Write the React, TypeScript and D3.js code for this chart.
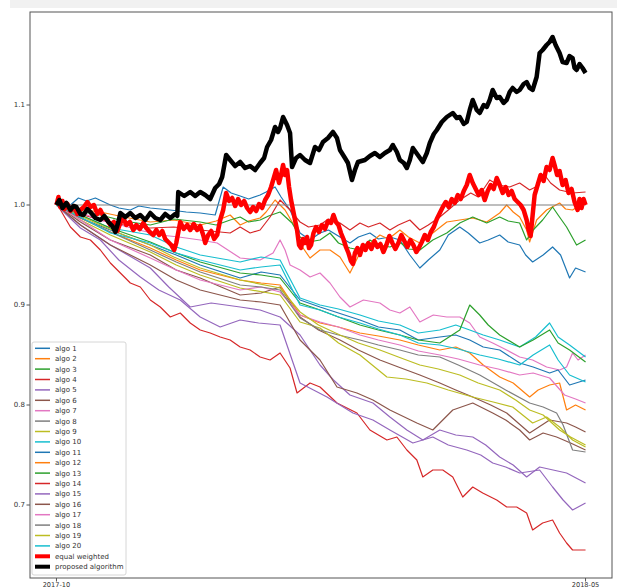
import React from "react";
import * as d3 from "d3";

// series are [day since 2017-10-01, value]
const proposed = [[0,1.000],[1.2,1.005],[2.4,0.997],[4,1.002],[5.6,0.995],[6.8,0.999],[8,0.998],[9.6,0.991],[10.8,0.990],[12.4,0.996],[13.6,0.993],[15.6,0.987],[17.6,0.985],[19.2,0.989],[20.8,0.983],[22.4,0.979],[23.6,0.973],[24.8,0.983],[25.6,0.992],[27.6,0.988],[29.6,0.992],[31.6,0.987],[33.6,0.990],[35.6,0.985],[37.6,0.992],[39.6,0.987],[41.6,0.985],[43.6,0.991],[45.6,0.987],[47.6,0.991],[48.4,0.989],[48.8,1.013],[51.2,1.009],[53.6,1.013],[55.6,1.009],[57.6,1.013],[59.6,1.010],[61.6,1.006],[63.6,1.017],[65.2,1.021],[66.4,1.028],[68,1.050],[69.6,1.045],[71.6,1.039],[73.6,1.043],[75.6,1.037],[77.6,1.039],[79.6,1.035],[81.6,1.042],[83.2,1.047],[84.4,1.058],[86,1.065],[87.6,1.078],[88.8,1.073],[89.6,1.077],[90.8,1.088],[92.4,1.080],[93.6,1.072],[94.4,1.038],[96,1.047],[97.6,1.050],[99.6,1.045],[101.6,1.042],[103.6,1.058],[105.2,1.055],[106.8,1.063],[108.8,1.067],[110.8,1.073],[112.4,1.067],[113.6,1.055],[115.6,1.047],[116.8,1.042],[118.4,1.025],[119.6,1.035],[120.8,1.043],[123.6,1.045],[125.6,1.049],[127.6,1.052],[129.6,1.048],[131.6,1.052],[133.6,1.055],[134.8,1.060],[136.4,1.053],[137.6,1.045],[139.2,1.042],[140.4,1.037],[141.6,1.045],[142.8,1.057],[144.8,1.050],[146.8,1.043],[148.4,1.052],[149.6,1.062],[151.2,1.071],[152.4,1.075],[154.4,1.083],[156.4,1.088],[158.8,1.092],[160.4,1.087],[161.6,1.088],[163.2,1.081],[164.4,1.083],[165.6,1.095],[166.8,1.105],[168.4,1.095],[169.6,1.092],[171.2,1.100],[172.4,1.098],[173.6,1.105],[174.8,1.115],[176.4,1.107],[177.6,1.108],[179.2,1.102],[180.4,1.105],[181.6,1.113],[182.8,1.117],[184.4,1.113],[185.6,1.115],[187.2,1.121],[188.4,1.123],[189.6,1.117],[190.8,1.115],[192.4,1.128],[193.6,1.152],[194.8,1.155],[196.4,1.160],[197.6,1.163],[198.8,1.168],[200,1.160],[201.6,1.152],[202.8,1.143],[204.4,1.142],[205.6,1.149],[206.8,1.147],[207.6,1.137],[208.4,1.135],[209.6,1.141],[210.8,1.137],[212,1.132]];

const equalWeighted = [[0,1.000],[0.8,1.008],[1.6,0.998],[2.4,1.004],[3.2,0.996],[4.4,1.001],[5.6,0.994],[7,0.999],[8.4,0.991],[9.6,0.995],[11,0.998],[12.4,1.003],[13.6,0.998],[15,1.000],[16.4,0.991],[17.6,0.995],[19,0.988],[20.4,0.985],[21.6,0.980],[23,0.983],[24.4,0.974],[25.6,0.982],[26.8,0.987],[28,0.980],[29.4,0.983],[30.8,0.975],[32,0.980],[33.4,0.976],[34.8,0.982],[36,0.977],[37.4,0.973],[38.8,0.970],[40,0.975],[41.2,0.970],[42.4,0.974],[43.6,0.966],[44.8,0.963],[46,0.960],[47.2,0.955],[48,0.962],[49.6,0.983],[51,0.976],[52.4,0.980],[53.6,0.975],[55,0.981],[56.4,0.975],[57.6,0.979],[58.8,0.970],[59.6,0.962],[60.8,0.970],[62,0.974],[63.2,0.966],[64.4,0.970],[65.6,0.985],[66.8,0.995],[68,1.012],[69.2,1.004],[70.4,1.007],[71.6,0.999],[72.8,1.006],[74,1.000],[75.2,1.004],[76.4,0.997],[77.6,0.993],[78.8,0.998],[80,0.994],[81.2,1.001],[82.4,0.997],[83.6,1.005],[84.8,1.010],[86,1.018],[87.2,1.028],[88,1.035],[89.2,1.022],[90,1.030],[90.8,1.040],[91.6,1.030],[92.4,1.035],[93.2,1.018],[94,1.005],[94.8,0.995],[95.6,0.985],[96.4,0.975],[97.2,0.960],[98,0.957],[98.8,0.966],[99.6,0.962],[100.4,0.968],[101.2,0.957],[102,0.960],[103,0.972],[104,0.978],[105.2,0.973],[106.4,0.980],[107.6,0.976],[108.8,0.984],[110,0.982],[111,0.990],[112,0.983],[113,0.980],[114,0.972],[115,0.966],[116,0.958],[117,0.952],[118,0.944],[118.8,0.941],[119.6,0.952],[120.6,0.957],[121.6,0.950],[122.8,0.960],[123.8,0.955],[125,0.962],[126.2,0.956],[127.4,0.964],[128.6,0.958],[129.8,0.961],[131,0.953],[132.2,0.960],[133.4,0.969],[134.6,0.962],[135.8,0.956],[137,0.962],[138.2,0.970],[139.4,0.964],[140.6,0.958],[141.8,0.965],[143,0.960],[144.2,0.953],[145.2,0.957],[146.4,0.963],[147.6,0.970],[148.8,0.965],[150,0.973],[151.2,0.978],[152.4,0.986],[153.6,0.992],[154.8,0.998],[156,1.003],[157.2,0.998],[158.4,1.006],[159.6,1.002],[160.8,1.010],[162,1.006],[163.2,1.014],[164.4,1.020],[165.6,1.030],[166.8,1.022],[168,1.016],[169.2,1.010],[170.4,1.015],[171.6,1.005],[172.8,1.014],[174,1.020],[175.2,1.016],[176.4,1.027],[177.6,1.020],[178.8,1.012],[180,1.018],[181.2,1.010],[182.4,1.014],[183.6,1.006],[184.8,1.003],[186,1.000],[187.2,0.995],[188.4,0.985],[189.2,0.975],[190,0.969],[190.8,0.990],[191.6,1.010],[192.8,1.020],[194,1.030],[195.2,1.024],[196.4,1.038],[197.6,1.035],[198.8,1.047],[199.6,1.040],[200.6,1.030],[201.6,1.034],[202.8,1.020],[204,1.025],[205.2,1.012],[206.4,1.016],[207.6,1.003],[208.8,0.995],[209.6,1.006],[210.4,0.997],[211.2,1.006],[212,1.000]];

const algo1 = [[0,1.000],[5.6,1.000],[8.8,1.007],[12,1.004],[15.6,1.007],[21.6,1.000],[25,0.997],[29.6,0.995],[33,0.999],[37.6,0.997],[45.6,0.995],[52,0.993],[57.6,0.992],[63.6,0.990],[66.8,1.018],[70,1.012],[73.6,1.009],[77,1.006],[81.6,1.010],[84,1.013],[87.6,1.018],[90,1.008],[93.6,0.995],[97.6,0.972],[101.6,0.965],[105.6,0.972],[109,0.975],[113.6,0.968],[117.6,0.962],[121,0.968],[125.6,0.972],[129,0.966],[133.6,0.968],[137.6,0.965],[141.6,0.950],[145.6,0.937],[149,0.945],[153.6,0.955],[157,0.970],[161.6,0.978],[165,0.972],[169.6,0.962],[173,0.965],[177.6,0.970],[181,0.963],[185.6,0.960],[188,0.950],[190.8,0.943],[195,0.950],[198.8,0.958],[202,0.950],[205.6,0.927],[208,0.937],[212,0.933]];
const algo2 = [[0,1.000],[8,0.996],[17.6,0.993],[27,0.988],[37.6,0.983],[47,0.985],[57.6,0.980],[64,0.984],[69.6,0.990],[73.6,0.980],[77,0.984],[81.6,0.987],[84,0.993],[87.6,1.005],[91.6,0.995],[95.6,0.978],[98,0.960],[101.6,0.947],[105.6,0.955],[109.6,0.955],[113.6,0.948],[117.6,0.932],[121.6,0.952],[125,0.960],[129.6,0.970],[133,0.966],[137.6,0.975],[141,0.968],[145.6,0.962],[150.8,0.972],[156.4,0.983],[161.6,0.985],[166.8,0.987],[172.4,0.983],[177.6,0.992],[180.4,1.000],[183,0.993],[185.6,0.988],[188.4,0.975],[189.6,0.963],[192.4,0.985],[196.4,0.995],[201.6,1.002],[204,0.996],[206.8,0.995],[212,1.003]];
const algo3 = [[0,1.000],[8,0.994],[17.6,0.990],[27,0.984],[37.6,0.980],[47,0.986],[57.6,0.983],[64,0.980],[69.6,0.985],[73.6,0.988],[77,0.983],[81.6,0.985],[85,0.989],[89.6,0.993],[94.4,0.982],[97.6,0.968],[101,0.963],[105.6,0.965],[109.6,0.972],[113,0.962],[117.6,0.957],[121.6,0.955],[125.6,0.965],[129,0.960],[133.6,0.958],[138,0.962],[141,0.956],[145.6,0.955],[150.8,0.965],[156.4,0.972],[161.6,0.982],[166.8,0.988],[172.4,0.982],[177.6,0.988],[181,0.984],[185.6,0.982],[188.4,0.965],[191,0.975],[194.8,0.985],[198.8,0.998],[201,0.990],[204.4,0.978],[208.4,0.960],[212,0.965]];
const algo4 = [[0,1.000],[8,0.992],[17.6,0.985],[27,0.980],[37.6,0.977],[47,0.978],[57.6,0.975],[69.6,0.972],[73.6,0.978],[77.6,0.972],[81.6,0.975],[85.6,0.988],[89.6,1.005],[93.6,0.995],[97.6,0.983],[101,0.978],[105.6,0.980],[109,0.986],[113.6,0.982],[117.6,0.975],[121.6,0.982],[125,0.978],[129.6,0.982],[133.6,0.975],[137,0.980],[141.6,0.985],[145.6,0.975],[149,0.980],[153.6,0.988],[157,0.995],[161.6,1.005],[166,1.012],[169,1.008],[173.6,1.025],[177,1.020],[181.6,1.018],[185.6,1.022],[189.6,1.015],[192,1.018],[195.6,1.030],[198,1.022],[201.6,1.015],[206.8,1.012],[212,1.013]];
const algo5 = [[0,1.000],[9.6,0.980],[21.6,0.960],[30,0.948],[37.6,0.937],[45,0.918],[53.6,0.898],[62,0.902],[73.6,0.898],[81.6,0.895],[89.6,0.888],[97.6,0.870],[105.6,0.840],[111,0.825],[117.6,0.810],[126.8,0.802],[133.6,0.788],[140.4,0.775],[146.8,0.765],[153.6,0.775],[160,0.770],[166.8,0.768],[172,0.760],[177.6,0.748],[183,0.740],[188.4,0.728],[193.6,0.738],[199,0.735],[204.4,0.732],[212,0.722]];
const algo6 = [[0,1.000],[9.6,0.983],[21.6,0.965],[37.6,0.950],[48,0.935],[57.6,0.927],[66,0.918],[73.6,0.910],[82,0.912],[89.6,0.918],[97.6,0.888],[105,0.875],[113.6,0.865],[121,0.855],[129.6,0.845],[137,0.838],[145.6,0.830],[153.6,0.822],[160,0.815],[166.8,0.808],[174,0.800],[180.4,0.792],[185,0.782],[189.6,0.772],[197.6,0.785],[204.4,0.782],[208,0.778],[212,0.773]];
const algo7 = [[0,1.000],[9.6,0.993],[17,0.985],[25.6,0.980],[33,0.975],[41.6,0.970],[49,0.968],[57.6,0.965],[64.4,0.962],[73.6,0.947],[81.6,0.945],[86.8,0.952],[89.6,0.965],[91.6,0.955],[93.6,0.940],[97.6,0.935],[101.6,0.928],[105.6,0.932],[109.6,0.922],[113.6,0.908],[117.6,0.898],[123,0.905],[129.6,0.902],[133.6,0.895],[137.6,0.892],[141.6,0.898],[145.6,0.883],[151,0.890],[156.4,0.888],[161.6,0.888],[165.6,0.882],[169.6,0.868],[174.8,0.862],[180.4,0.855],[185.6,0.848],[190.8,0.845],[196.4,0.838],[201.6,0.835],[204.4,0.838],[206.8,0.852],[209,0.845],[212,0.850]];
const algo8 = [[0,1.000],[212,1.000]];
const algo9 = [[0,1.000],[9.6,0.985],[21.6,0.970],[37.6,0.953],[48,0.940],[57.6,0.930],[73.6,0.917],[89.6,0.910],[97.6,0.883],[105.6,0.877],[113,0.862],[121.6,0.850],[132.4,0.828],[140,0.826],[148.4,0.822],[157,0.815],[166.8,0.808],[175,0.803],[182.8,0.798],[190.8,0.782],[196.4,0.788],[201.6,0.778],[206.8,0.765],[212,0.758]];
const algo10 = [[0,1.000],[9.6,0.990],[21.6,0.977],[37.6,0.970],[48,0.958],[57.6,0.950],[73.6,0.943],[82,0.948],[89.6,0.945],[97.6,0.907],[105.6,0.900],[113,0.896],[121.6,0.890],[129,0.884],[137.6,0.880],[145,0.872],[153.6,0.875],[160,0.880],[165.6,0.875],[171,0.870],[177.6,0.865],[185.6,0.858],[192,0.868],[197.6,0.882],[201,0.868],[205.6,0.860],[212,0.848]];
const algo11 = [[0,1.000],[9.6,0.987],[21.6,0.975],[37.6,0.960],[48,0.950],[57.6,0.940],[73.6,0.927],[82,0.933],[89.6,0.930],[97.6,0.905],[105.6,0.898],[113,0.892],[121.6,0.885],[129,0.878],[137.6,0.875],[145,0.865],[153.6,0.868],[160,0.870],[165.6,0.865],[171,0.858],[177.6,0.855],[185.6,0.842],[191,0.838],[197.6,0.832],[201,0.835],[205.6,0.820],[212,0.825]];
const algo12 = [[0,1.000],[9.6,0.987],[21.6,0.973],[37.6,0.957],[48,0.945],[57.6,0.935],[73.6,0.925],[82,0.922],[89.6,0.920],[97.6,0.890],[105.6,0.882],[113,0.878],[121.6,0.872],[129,0.869],[137.6,0.865],[145,0.860],[153.6,0.855],[160,0.858],[165.6,0.852],[171,0.840],[177.6,0.828],[183,0.822],[189.6,0.808],[193,0.815],[197.6,0.820],[201.6,0.822],[204.4,0.795],[208,0.800],[212,0.795]];
const algo13 = [[0,1.000],[9.6,0.990],[21.6,0.977],[37.6,0.963],[48,0.952],[57.6,0.943],[73.6,0.932],[82,0.930],[89.6,0.927],[97.6,0.902],[105.6,0.895],[113,0.888],[121.6,0.880],[129,0.875],[137.6,0.870],[145,0.865],[153.6,0.862],[161.6,0.875],[165.6,0.900],[169.6,0.890],[173,0.880],[177.6,0.870],[185.6,0.858],[191,0.865],[197.6,0.875],[201,0.862],[205.6,0.855],[212,0.843]];
const algo14 = [[0,1.002],[5.6,0.978],[9.6,0.968],[13.6,0.965],[17.6,0.955],[21.6,0.942],[25.6,0.932],[29.6,0.922],[33.6,0.918],[37.6,0.905],[41.6,0.898],[45.6,0.888],[49.6,0.892],[53.6,0.882],[57.6,0.875],[61.6,0.872],[65.6,0.868],[69.6,0.865],[73.6,0.858],[77.6,0.855],[81.6,0.848],[85.6,0.845],[89.6,0.852],[93.6,0.837],[96.4,0.812],[101.6,0.822],[105.6,0.818],[112.4,0.802],[120.4,0.792],[125.6,0.775],[132.4,0.765],[136.4,0.768],[140.4,0.755],[144.4,0.745],[146.8,0.728],[150.8,0.735],[154.8,0.735],[158.8,0.728],[162.8,0.708],[166.8,0.718],[170.8,0.712],[176.4,0.705],[180.4,0.698],[184.4,0.698],[188.4,0.692],[190.8,0.675],[194.8,0.682],[198.8,0.685],[201.6,0.672],[204.4,0.662],[206.8,0.655],[212,0.655]];
const algo15 = [[0,1.000],[9.6,0.977],[17.6,0.965],[25,0.945],[33.6,0.928],[41,0.915],[49.6,0.905],[57.6,0.888],[65.6,0.878],[73.6,0.885],[81,0.882],[89.6,0.880],[97.6,0.822],[103,0.815],[108.4,0.808],[118.8,0.792],[126.8,0.785],[133.6,0.775],[142.8,0.762],[150.8,0.768],[157,0.760],[164.4,0.755],[170,0.750],[174.8,0.742],[180,0.738],[185.6,0.732],[193.6,0.735],[198.8,0.718],[203,0.705],[206.8,0.695],[212,0.702]];
const algo16 = [[0,1.000],[9.6,0.980],[21.6,0.960],[37.6,0.940],[48,0.925],[57.6,0.915],[73.6,0.905],[82,0.903],[89.6,0.900],[97.6,0.865],[105.6,0.845],[112.4,0.818],[120.4,0.812],[126.8,0.805],[133.6,0.795],[144.4,0.782],[150.8,0.775],[158.8,0.795],[166.8,0.802],[174.8,0.792],[180,0.785],[185.6,0.775],[189.6,0.765],[195,0.772],[200.4,0.768],[206,0.762],[212,0.755]];
const algo17 = [[0,1.000],[9.6,0.985],[21.6,0.965],[37.6,0.947],[48,0.935],[57.6,0.925],[73.6,0.915],[82,0.918],[89.6,0.913],[97.6,0.890],[105.6,0.883],[113,0.878],[121.6,0.870],[129,0.865],[137.6,0.860],[145,0.854],[153.6,0.850],[161,0.846],[169.6,0.840],[177,0.836],[185.6,0.830],[191,0.832],[197.6,0.827],[203.6,0.810],[208,0.806],[212,0.802]];
const algo18 = [[0,1.000],[9.6,0.987],[21.6,0.973],[37.6,0.955],[48,0.943],[57.6,0.933],[73.6,0.920],[82,0.918],[89.6,0.915],[97.6,0.887],[105.6,0.875],[113,0.870],[121.6,0.865],[129,0.860],[137.6,0.855],[145,0.850],[153.6,0.848],[161,0.840],[169.6,0.830],[180,0.815],[189.6,0.802],[195,0.798],[200.4,0.792],[203,0.780],[206.8,0.755],[212,0.753]];
const algo19 = [[0,1.000],[17.6,0.980],[27,0.970],[37.6,0.960],[47,0.948],[57.6,0.937],[73.6,0.925],[89.6,0.917],[97.6,0.893],[105,0.880],[113.6,0.870],[121,0.862],[129.6,0.855],[137,0.848],[145.6,0.840],[153,0.836],[161.6,0.830],[169,0.822],[177.6,0.815],[184,0.805],[189.6,0.795],[195,0.790],[201.6,0.775],[206,0.768],[212,0.760]];
const algo20 = [[0,1.000],[9.6,0.988],[21.6,0.972],[37.6,0.962],[48,0.952],[57.6,0.945],[73.6,0.935],[82,0.938],[89.6,0.940],[97.6,0.900],[105.6,0.895],[113,0.888],[121.6,0.882],[129,0.876],[137.6,0.870],[145,0.862],[153.6,0.860],[161,0.856],[169.6,0.850],[177,0.846],[185.6,0.840],[191,0.850],[197.6,0.860],[201,0.845],[205.6,0.830],[212,0.823]];

const algos = [algo1, algo2, algo3, algo4, algo5, algo6, algo7, algo8, algo9, algo10,
  algo11, algo12, algo13, algo14, algo15, algo16, algo17, algo18, algo19, algo20];
const algoNames = algos.map((_, i) => "algo " + (i + 1));
const yTicks = [0.7, 0.8, 0.9, 1.0, 1.1];
const xTickLabels = ["2017-10", "2018-05"];
const xTickDays = [0, 212];

const START = Date.UTC(2017, 9, 1);
const DAY = 86400000;
const toDate = (d: number) => new Date(START + d * DAY);

export default function App() {
  const W = 617, H = 588;
  const left = 30, right = 612, top = 12, bottom = 578;

  const x0 = toDate(0), x1 = toDate(212);
  const pad = (x1.getTime() - x0.getTime()) * 0.05;
  const x = d3.scaleTime()
    .domain([new Date(x0.getTime() - pad), new Date(x1.getTime() + pad)])
    .range([left, right]);
  const y = d3.scaleLinear().domain([0.627, 1.193]).range([bottom, top]);

  const line = d3.line<number[]>()
    .x((d) => x(toDate(d[0])))
    .y((d) => y(d[1]));

  const colors = d3.schemeCategory10;
  const font = "DejaVu Sans, sans-serif";
  const legX = 32, legY = 342, rowH = 10.4;
  const legendItems = [
    ...algoNames.map((n, i) => ({ name: n, color: colors[i % 10], w: 1.5 })),
    { name: "equal weighted", color: "red", w: 4 },
    { name: "proposed algorithm", color: "black", w: 4 },
  ];

  return (
    <div style={{ position: "absolute", left: 0, top: 0 }}>
      <svg width={W} height={H} style={{ display: "block", background: "#fff" }}>
        <rect x={10} y={0} width={W - 10} height={8} fill="#f1f1f1" />
        <g fill="none" strokeLinejoin="round">
          {algos.map((s, i) => (
            <path key={i} d={line(s) || ""} stroke={colors[i % 10]} strokeWidth={1.2} />
          ))}
          <path d={line(equalWeighted) || ""} stroke="red" strokeWidth={4.5} />
          <path d={line(proposed) || ""} stroke="black" strokeWidth={4.5} />
        </g>
        <rect x={left} y={top} width={right - left} height={bottom - top}
          fill="none" stroke="#555" strokeWidth={1} />
        {yTicks.map((t) => (
          <g key={t} transform={`translate(0,${y(t)})`}>
            <line x1={left - 3.5} x2={left} stroke="#555" />
            <text x={left - 5} dy="0.35em" textAnchor="end" fontSize={7}
              fontFamily={font} fill="#333">{t.toFixed(1)}</text>
          </g>
        ))}
        {xTickDays.map((d, i) => (
          <g key={d} transform={`translate(${x(toDate(d))},${bottom})`}>
            <line y2={3.5} stroke="#555" />
            <text y={8.6} textAnchor="middle" fontSize={6.6} fontFamily={font} fill="#333">
              {xTickLabels[i]}
            </text>
          </g>
        ))}
        <rect x={legX} y={legY} width={94} height={233} rx={2}
          fill="#fff" fillOpacity={0.85} stroke="#ccc" strokeWidth={0.8} />
        {legendItems.map((it, i) => {
          const cy = legY + 6.3 + i * rowH;
          return (
            <g key={it.name}>
              <line x1={legX + 3} x2={legX + 18} y1={cy} y2={cy}
                stroke={it.color} strokeWidth={it.w} />
              <text x={legX + 23} y={cy} dy="0.35em" fontSize={7}
                fontFamily={font} fill="#333">{it.name}</text>
            </g>
          );
        })}
      </svg>
    </div>
  );
}
